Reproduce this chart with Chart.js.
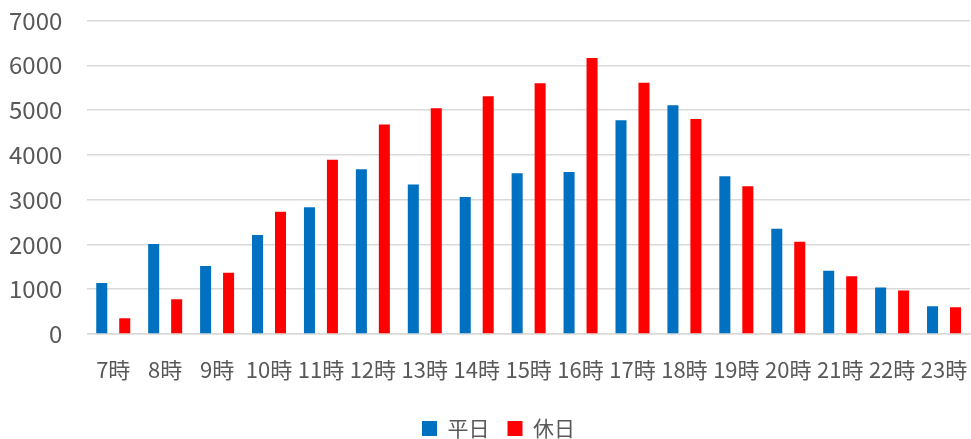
<!DOCTYPE html>
<html>
<head>
<meta charset="utf-8">
<script src="https://cdn.jsdelivr.net/npm/chart.js@4/dist/chart.umd.min.js"></script>
<style>
html,body{margin:0;padding:0;background:#fff;}
#wrap{width:971px;height:439px;position:relative;}
</style>
</head>
<body>
<div id="wrap"><canvas id="c"></canvas></div>
<script>
const categories = ['7時','8時','9時','10時','11時','12時','13時','14時','15時','16時','17時','18時','19時','20時','21時','22時','23時'];
const weekday = [1140,2010,1520,2210,2830,3680,3340,3060,3590,3620,4770,5110,3520,2350,1410,1040,620];
const holiday = [350,775,1370,2730,3890,4680,5040,5310,5600,6160,5610,4800,3300,2060,1290,970,600];
const yTicks = [0,1000,2000,3000,4000,5000,6000,7000];

const FONT = "'Noto Sans CJK JP', 'Noto Sans', sans-serif";
const TXT = '#595959';

const legendShift = {
  id: 'legendShift',
  afterLayout(chart) {
    const lg = chart.legend;
    if (lg) {
      lg.left += 9; lg.right += 9;
      const h = lg.height;
      lg.top = 400; lg.bottom = lg.top + h;
    }
  }
};

new Chart(document.getElementById('c'), {
  type: 'bar',
  data: {
    labels: categories,
    datasets: [
      {label: '平日', data: weekday, backgroundColor: '#0070C0', borderWidth: 0, categoryPercentage: 0.885, barPercentage: 0.48},
      {label: '休日', data: holiday, backgroundColor: '#FF0000', borderWidth: 0, categoryPercentage: 0.885, barPercentage: 0.48}
    ]
  },
  plugins: [legendShift],
  options: {
    responsive: true,
    maintainAspectRatio: false,
    animation: false,
    layout: {padding: {left: 9, right: 1, top: 0, bottom: 0}},
    plugins: {
      legend: {
        position: 'bottom',
        labels: {
          font: {family: FONT, size: 21},
          color: TXT,
          boxWidth: 15,
          boxHeight: 15,
          padding: 18
        }
      },
      tooltip: {enabled: false}
    },
    scales: {
      x: {
        grid: {display: false, drawTicks: false},
        border: {display: true, color: '#D9D9D9', width: 1.5},
        ticks: {
          font: {family: FONT, size: 22},
          color: TXT,
          maxRotation: 0,
          autoSkip: false,
          padding: 22
        },
        afterFit: (scale) => { scale.height = 56; scale.paddingLeft = 0; scale.paddingRight = 0; }
      },
      y: {
        min: 0,
        max: 7000,
        afterBuildTicks: (axis) => { axis.ticks = yTicks.map(v => ({value: v})); },
        grid: {color: '#D9D9D9', lineWidth: 1.5, drawTicks: false},
        border: {display: false},
        ticks: {
          font: {family: FONT, size: 24},
          color: TXT,
          padding: 25,
          callback: (v) => String(v)
        },
        afterFit: (scale) => { scale.width -= 25; scale.paddingTop = 20.5; scale.paddingBottom = 0; }
      }
    }
  }
});
</script>
</body>
</html>
